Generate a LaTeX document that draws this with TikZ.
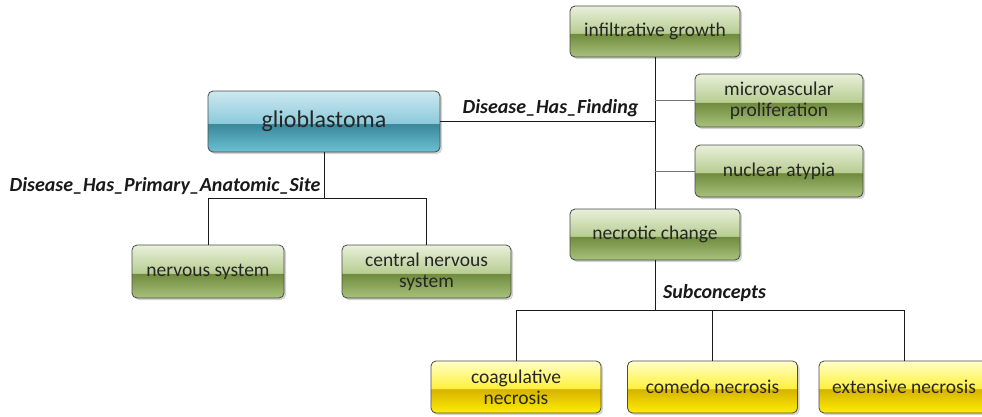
\documentclass[tikz,border=0pt]{standalone}
\usepackage{fontspec}
\setmainfont{Carlito}
\usetikzlibrary{shadows}

% glossy box colours
\definecolor{gtop}{HTML}{E8F0DA}
\definecolor{ghi}{HTML}{B8CD92}
\definecolor{glo}{HTML}{6F8B3C}
\definecolor{gbot}{HTML}{A8C27C}
\definecolor{btop}{HTML}{CDE9F0}
\definecolor{bhi}{HTML}{8CCADB}
\definecolor{blo}{HTML}{3A8799}
\definecolor{bbot}{HTML}{6CC0D4}
\definecolor{ytop}{HTML}{FFFFC8}
\definecolor{yhi}{HTML}{FFF03C}
\definecolor{ylo}{HTML}{D6B200}
\definecolor{ybot}{HTML}{FFEE00}
\definecolor{boxline}{HTML}{4A4A4A}
\definecolor{linec}{HTML}{1A1A1A}

% two-tone glass shadings (visible range 25bp..75bp)
\pgfdeclareverticalshading{greenglass}{100bp}{color(0bp)=(gbot); color(25bp)=(gbot); color(48bp)=(glo); color(48.6bp)=(ghi); color(75bp)=(gtop); color(100bp)=(gtop)}
\pgfdeclareverticalshading{blueglass}{100bp}{color(0bp)=(bbot); color(25bp)=(bbot); color(48bp)=(blo); color(48.6bp)=(bhi); color(75bp)=(btop); color(100bp)=(btop)}
\pgfdeclareverticalshading{yellowglass}{100bp}{color(0bp)=(ybot); color(25bp)=(ybot); color(48bp)=(ylo); color(48.6bp)=(yhi); color(75bp)=(ytop); color(100bp)=(ytop)}

\begin{document}
\begin{tikzpicture}[x=1pt,y=-1pt,
  box/.style={rectangle, rounded corners=5pt, draw=boxline, line width=0.8pt,
    minimum width=170pt, minimum height=52pt, align=center, inner sep=2pt,
    font=\fontsize{19.5}{21}\selectfont, text=black!85,
    drop shadow={shadow xshift=2pt, shadow yshift=-2pt, opacity=0.35}},
  greenbox/.style={box, shading=greenglass},
  bluebox/.style={box, shading=blueglass},
  yellowbox/.style={box, shading=yellowglass},
  link/.style={draw=linec, line width=0.8pt},
  twig/.style={draw=black!55, line width=0.8pt},
  rel/.style={font=\fontsize{20}{22}\selectfont\bfseries\itshape, text=black!90, inner sep=0pt}
]
\useasboundingbox (0,0) rectangle (982,416);

% concepts
\node[bluebox, minimum width=232pt, minimum height=61pt, font=\fontsize{24}{26}\selectfont] (gbm) at (324,121.5) {glioblastoma};
\node[greenbox, minimum height=51pt] (infil) at (655,31.5) {infiltrative growth};
\node[greenbox, minimum width=168pt, minimum height=53pt] (micro) at (779,100.5) {microvascular\\proliferation};
\node[greenbox, minimum width=168pt, minimum height=52pt] (atyp) at (779,171) {nuclear atypia};
\node[greenbox, minimum height=51pt] (necro) at (655,234.5) {necrotic change};
\node[greenbox, minimum width=152pt, minimum height=53pt] (nerv) at (208,271.5) {nervous system};
\node[greenbox, minimum width=169pt, minimum height=53pt] (cns) at (426.5,271.5) {central nervous\\system};
\node[yellowbox] (coag) at (516,387) {coagulative\\necrosis};
\node[yellowbox] (comedo) at (712.5,387) {comedo necrosis};
\node[yellowbox] (ext) at (904,387) {extensive necrosis};

% junctions
\coordinate (j1) at (324,198);
\coordinate (j2) at (655,310);

% findings trunk
\draw[link] (infil.south) -- (necro.north);
\draw[twig] (infil.south |- micro.west) -- (micro.west);
\draw[twig] (infil.south |- atyp.west) -- (atyp.west);
\draw[link] (gbm.east) -- (gbm.east -| infil.south);

% anatomic site branch
\draw[link] (gbm.south) -- (j1);
\draw[link] (nerv.north) -- (nerv.north |- j1) -- (cns.north |- j1) -- (cns.north);

% subconcept branch
\draw[link] (necro.south) -- (j2);
\draw[link] (coag.north) -- (coag.north |- j2) -- (ext.north |- j2) -- (ext.north);
\draw[link] (comedo.north) -- (comedo.north |- j2);

% relation labels
\node[rel] (lfind) at (550.5,108) {Disease\_Has\_Finding};
\node[rel] (lsite) at (165,186) {Disease\_Has\_Primary\_Anatomic\_Site};
\node[rel] (lsub) at (714.5,293) {Subconcepts};
\end{tikzpicture}
\end{document}
